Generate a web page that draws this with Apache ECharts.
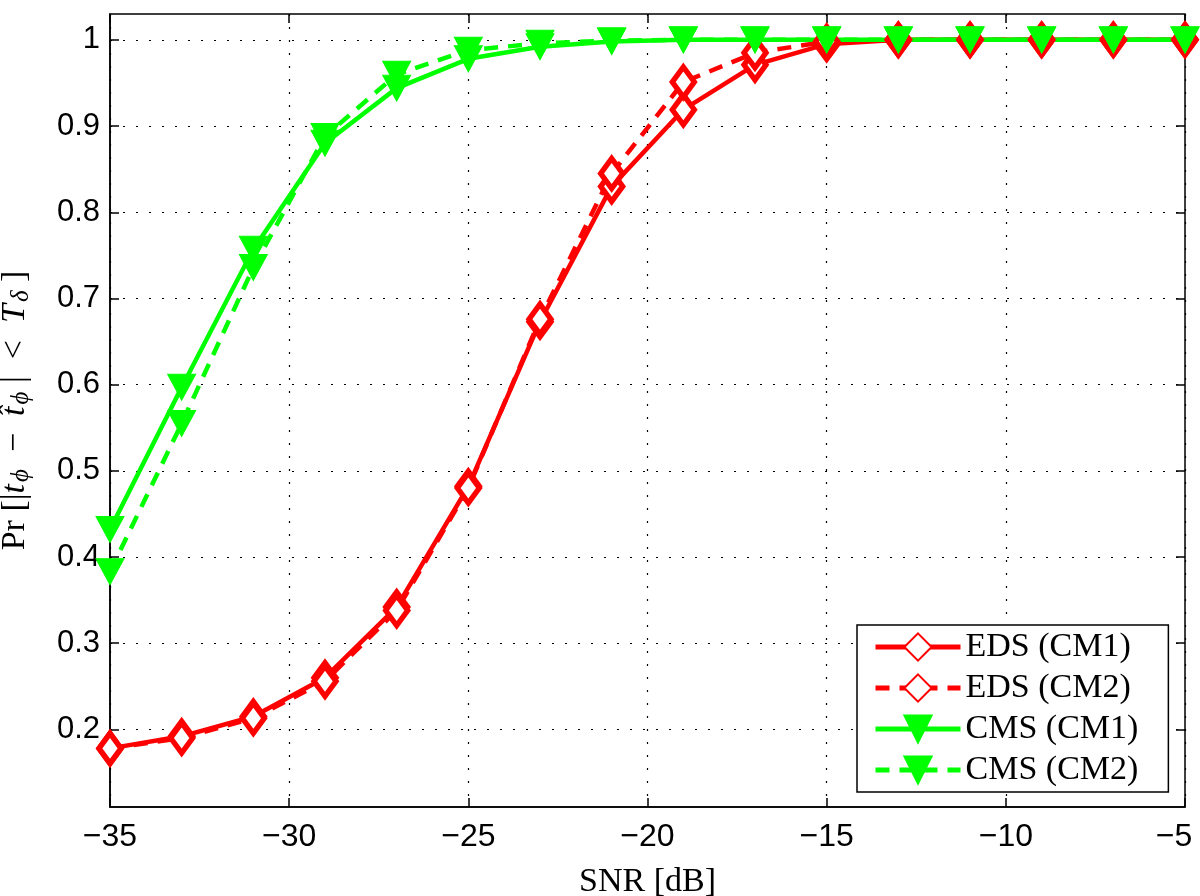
<!DOCTYPE html>
<html>
<head>
<meta charset="utf-8">
<script src="https://cdn.jsdelivr.net/npm/echarts@6/dist/echarts.min.js"></script>
<style>
    html, body { margin: 0; padding: 0; background: #fff; }
    #chart { width: 1200px; height: 896px; }
</style>
</head>
<body>
<div id="chart"></div>
<script>
// SNR values in dB
const snr = [-35, -33, -31, -29, -27, -25, -23, -21, -19, -17, -15, -13, -11, -9, -7, -5];

const edsCm1 = [0.178, 0.192, 0.215, 0.260, 0.342, 0.482, 0.673, 0.830, 0.919, 0.971, 0.995, 1.0, 1.0, 1.0, 1.0, 1.0];
const edsCm2 = [0.178, 0.190, 0.213, 0.256, 0.338, 0.480, 0.676, 0.845, 0.951, 0.985, 0.998, 1.0, 1.0, 1.0, 1.0, 1.0];
const cmsCm1 = [0.432, 0.597, 0.757, 0.880, 0.944, 0.978, 0.992, 0.998, 1.0, 1.0, 1.0, 1.0, 1.0, 1.0, 1.0, 1.0];
const cmsCm2 = [0.383, 0.555, 0.736, 0.888, 0.960, 0.988, 0.996, 0.999, 1.0, 1.0, 1.0, 1.0, 1.0, 1.0, 1.0, 1.0];

const yTicks = [0.2, 0.3, 0.4, 0.5, 0.6, 0.7, 0.8, 0.9, 1.0];
const seriesNames = ['EDS (CM1)', 'EDS (CM2)', 'CMS (CM1)', 'CMS (CM2)'];

const RED = '#ff0000';
const GREEN = '#00ff00';
const tickFont = '"Liberation Sans", Arial, Helvetica, sans-serif';
const serifFont = '"Liberation Serif", "Times New Roman", serif';

function pairs(ys) {
    return snr.map((x, i) => [x, ys[i]]);
}

function edsSeries(name, ys, dashed) {
    return {
        name: name,
        type: 'line',
        data: pairs(ys),
        symbol: 'diamond',
        symbolSize: [22, 30],
        showAllSymbol: true,
        lineStyle: { color: RED, width: 4.5, type: dashed ? [14, 10] : 'solid' },
        itemStyle: { color: '#fff', borderColor: RED, borderWidth: 5.5 }
    };
}

function cmsSeries(name, ys, dashed) {
    return {
        name: name,
        type: 'line',
        data: pairs(ys),
        symbol: 'triangle',
        symbolRotate: 180,
        symbolSize: [28, 26],
        showAllSymbol: true,
        lineStyle: { color: GREEN, width: 4.5, type: dashed ? [14, 10] : 'solid' },
        itemStyle: { color: GREEN, borderColor: GREEN, borderWidth: 1 }
    };
}

const chart = echarts.init(document.getElementById('chart'), null, { renderer: 'canvas' });

const dotted = { show: true, lineStyle: { color: '#000', type: [2, 11], width: 1.2 } };
const tickStyle = { color: '#000', width: 1.5 };

chart.setOption({
    animation: false,
    backgroundColor: '#fff',
    grid: {
        left: 110, right: 15, top: 14, bottom: 89,
        outerBoundsMode: 'none',
        containLabel: false,
        show: true, borderColor: '#000', borderWidth: 1.5, backgroundColor: 'transparent'
    },
    legend: {
        data: seriesNames,
        orient: 'vertical',
        left: 857, top: 625,
        padding: [5, 30, 5, 16],
        itemGap: 7,
        itemWidth: 85,
        itemHeight: 34,
        lineStyle: { width: 5 },
        backgroundColor: '#fff',
        borderColor: '#000',
        borderWidth: 1.5,
        textStyle: { fontFamily: serifFont, fontSize: 34, color: '#000' }
    },
    xAxis: [{
        type: 'value',
        min: -35, max: -5, interval: 5,
        name: 'SNR [dB]',
        nameLocation: 'middle',
        nameGap: 58,
        nameTextStyle: { fontFamily: serifFont, fontSize: 34, color: '#000' },
        axisLine: { show: true, onZero: false, lineStyle: tickStyle },
        axisTick: { show: true, inside: true, length: 9, lineStyle: tickStyle },
        axisLabel: {
            margin: 14, color: '#000', fontFamily: tickFont, fontSize: 32,
            formatter: v => {
                const s = String(v).replace('-', '\u2212');
                return v === -5 ? '{m|' + s + '}' : s;
            },
            rich: { m: { fontFamily: tickFont, fontSize: 32, color: '#000', padding: [0, 22, 0, 0] } }
        },
        splitLine: dotted
    }, {
        type: 'value', position: 'top',
        min: -35, max: -5, interval: 5,
        axisLine: { show: false },
        axisTick: { show: true, inside: true, length: 9, lineStyle: tickStyle },
        axisLabel: { show: false },
        splitLine: { show: false }
    }],
    yAxis: [{
        type: 'value',
        min: 0.11, max: 1.03,
        name: '{n|Pr [|}{i|t}{s|ϕ}{n|  −  }{i|t̂}{s|ϕ}{n| |  <  }{i|T}{s|δ}{n| ]}',
        nameLocation: 'middle',
        nameGap: 76,
        nameTextStyle: {
            fontFamily: serifFont, fontSize: 34, color: '#000',
            rich: {
                n: { fontFamily: serifFont, fontSize: 34, color: '#000' },
                i: { fontFamily: serifFont, fontSize: 34, fontStyle: 'italic', color: '#000' },
                s: { fontFamily: serifFont, fontSize: 25, fontStyle: 'italic', color: '#000', padding: [12, 0, 0, 2] }
            }
        },
        axisLine: { show: true, onZero: false, lineStyle: tickStyle },
        axisTick: { show: true, inside: true, length: 9, customValues: yTicks, lineStyle: tickStyle },
        axisLabel: {
            margin: 10, color: '#000', fontFamily: tickFont, fontSize: 31,
            customValues: yTicks,
            formatter: v => String(Math.round(v * 10) / 10)
        },
        splitLine: dotted
    }, {
        type: 'value', position: 'right',
        min: 0.11, max: 1.03,
        axisLine: { show: false },
        axisTick: { show: true, inside: true, length: 9, customValues: yTicks, lineStyle: tickStyle },
        axisLabel: { show: false, customValues: yTicks },
        splitLine: { show: false }
    }],
    series: [
        edsSeries(seriesNames[0], edsCm1, false),
        edsSeries(seriesNames[1], edsCm2, true),
        cmsSeries(seriesNames[2], cmsCm1, false),
        cmsSeries(seriesNames[3], cmsCm2, true)
    ]
});
</script>
</body>
</html>
